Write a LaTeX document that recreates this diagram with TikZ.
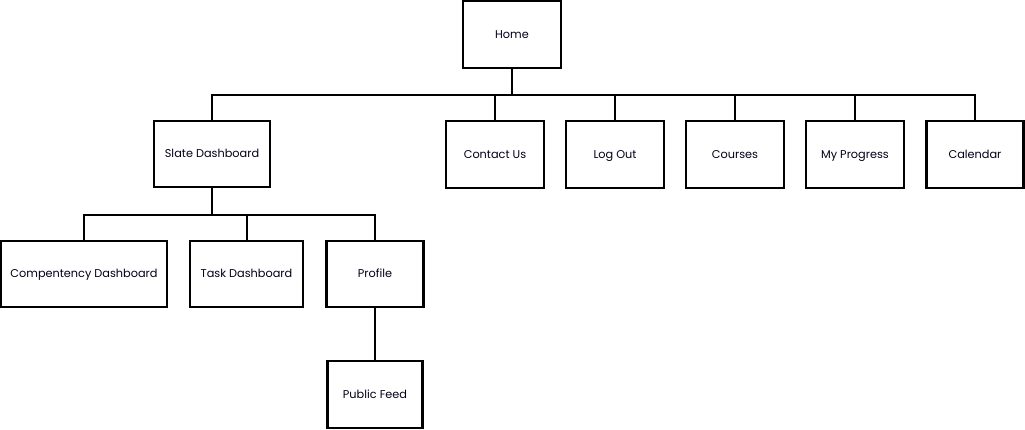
\documentclass[tikz,border=0pt]{standalone}
\usepackage{fontspec}
\setmainfont{Poppins}
\begin{document}
\begin{tikzpicture}[x=1pt,y=-1pt,
  box/.style={draw=black, line width=2.5pt, fill=white, inner sep=0pt, font=\fontsize{11.3}{13}\selectfont, text=black!90!blue, text height=8pt, text depth=0.5pt},
  conn/.style={draw=black, line width=2pt}]
\useasboundingbox (0,0) rectangle (1025,430);
\node[box, minimum width=98, minimum height=67] (home) at (512,34.5) {Home};
\node[box, minimum width=116, minimum height=66] (slate) at (212,154) {Slate Dashboard};
\node[box, minimum width=98, minimum height=67] (contact) at (495,154.5) {Contact Us};
\node[box, minimum width=98, minimum height=67] (logout) at (615,154.5) {Log Out};
\node[box, minimum width=98, minimum height=67] (courses) at (735,154.5) {Courses};
\node[box, minimum width=98, minimum height=67] (progress) at (855,154.5) {My Progress};
\node[box, minimum width=97, minimum height=67] (calendar) at (975,154.5) {Calendar};
\node[box, minimum width=166, minimum height=66] (comp) at (84,274) {Compentency Dashboard};
\node[box, minimum width=113, minimum height=66] (task) at (246.5,274) {Task Dashboard};
\node[box, minimum width=97, minimum height=66] (profile) at (375,274) {Profile};
\node[box, minimum width=95, minimum height=67] (feed) at (375,394.5) {Public Feed};
\coordinate (bus1) at (512,95);
\coordinate (bus2) at (212,215);
\draw[conn] (home.south) -- (bus1);
\foreach \c in {slate,contact,logout,courses,progress,calendar}
  \draw[conn] (\c.north) |- (bus1);
\draw[conn] (slate.south) -- (bus2);
\foreach \c in {comp,task,profile}
  \draw[conn] (\c.north) |- (bus2);
\draw[conn] (profile.south) -- (feed.north);
\end{tikzpicture}
\end{document}
